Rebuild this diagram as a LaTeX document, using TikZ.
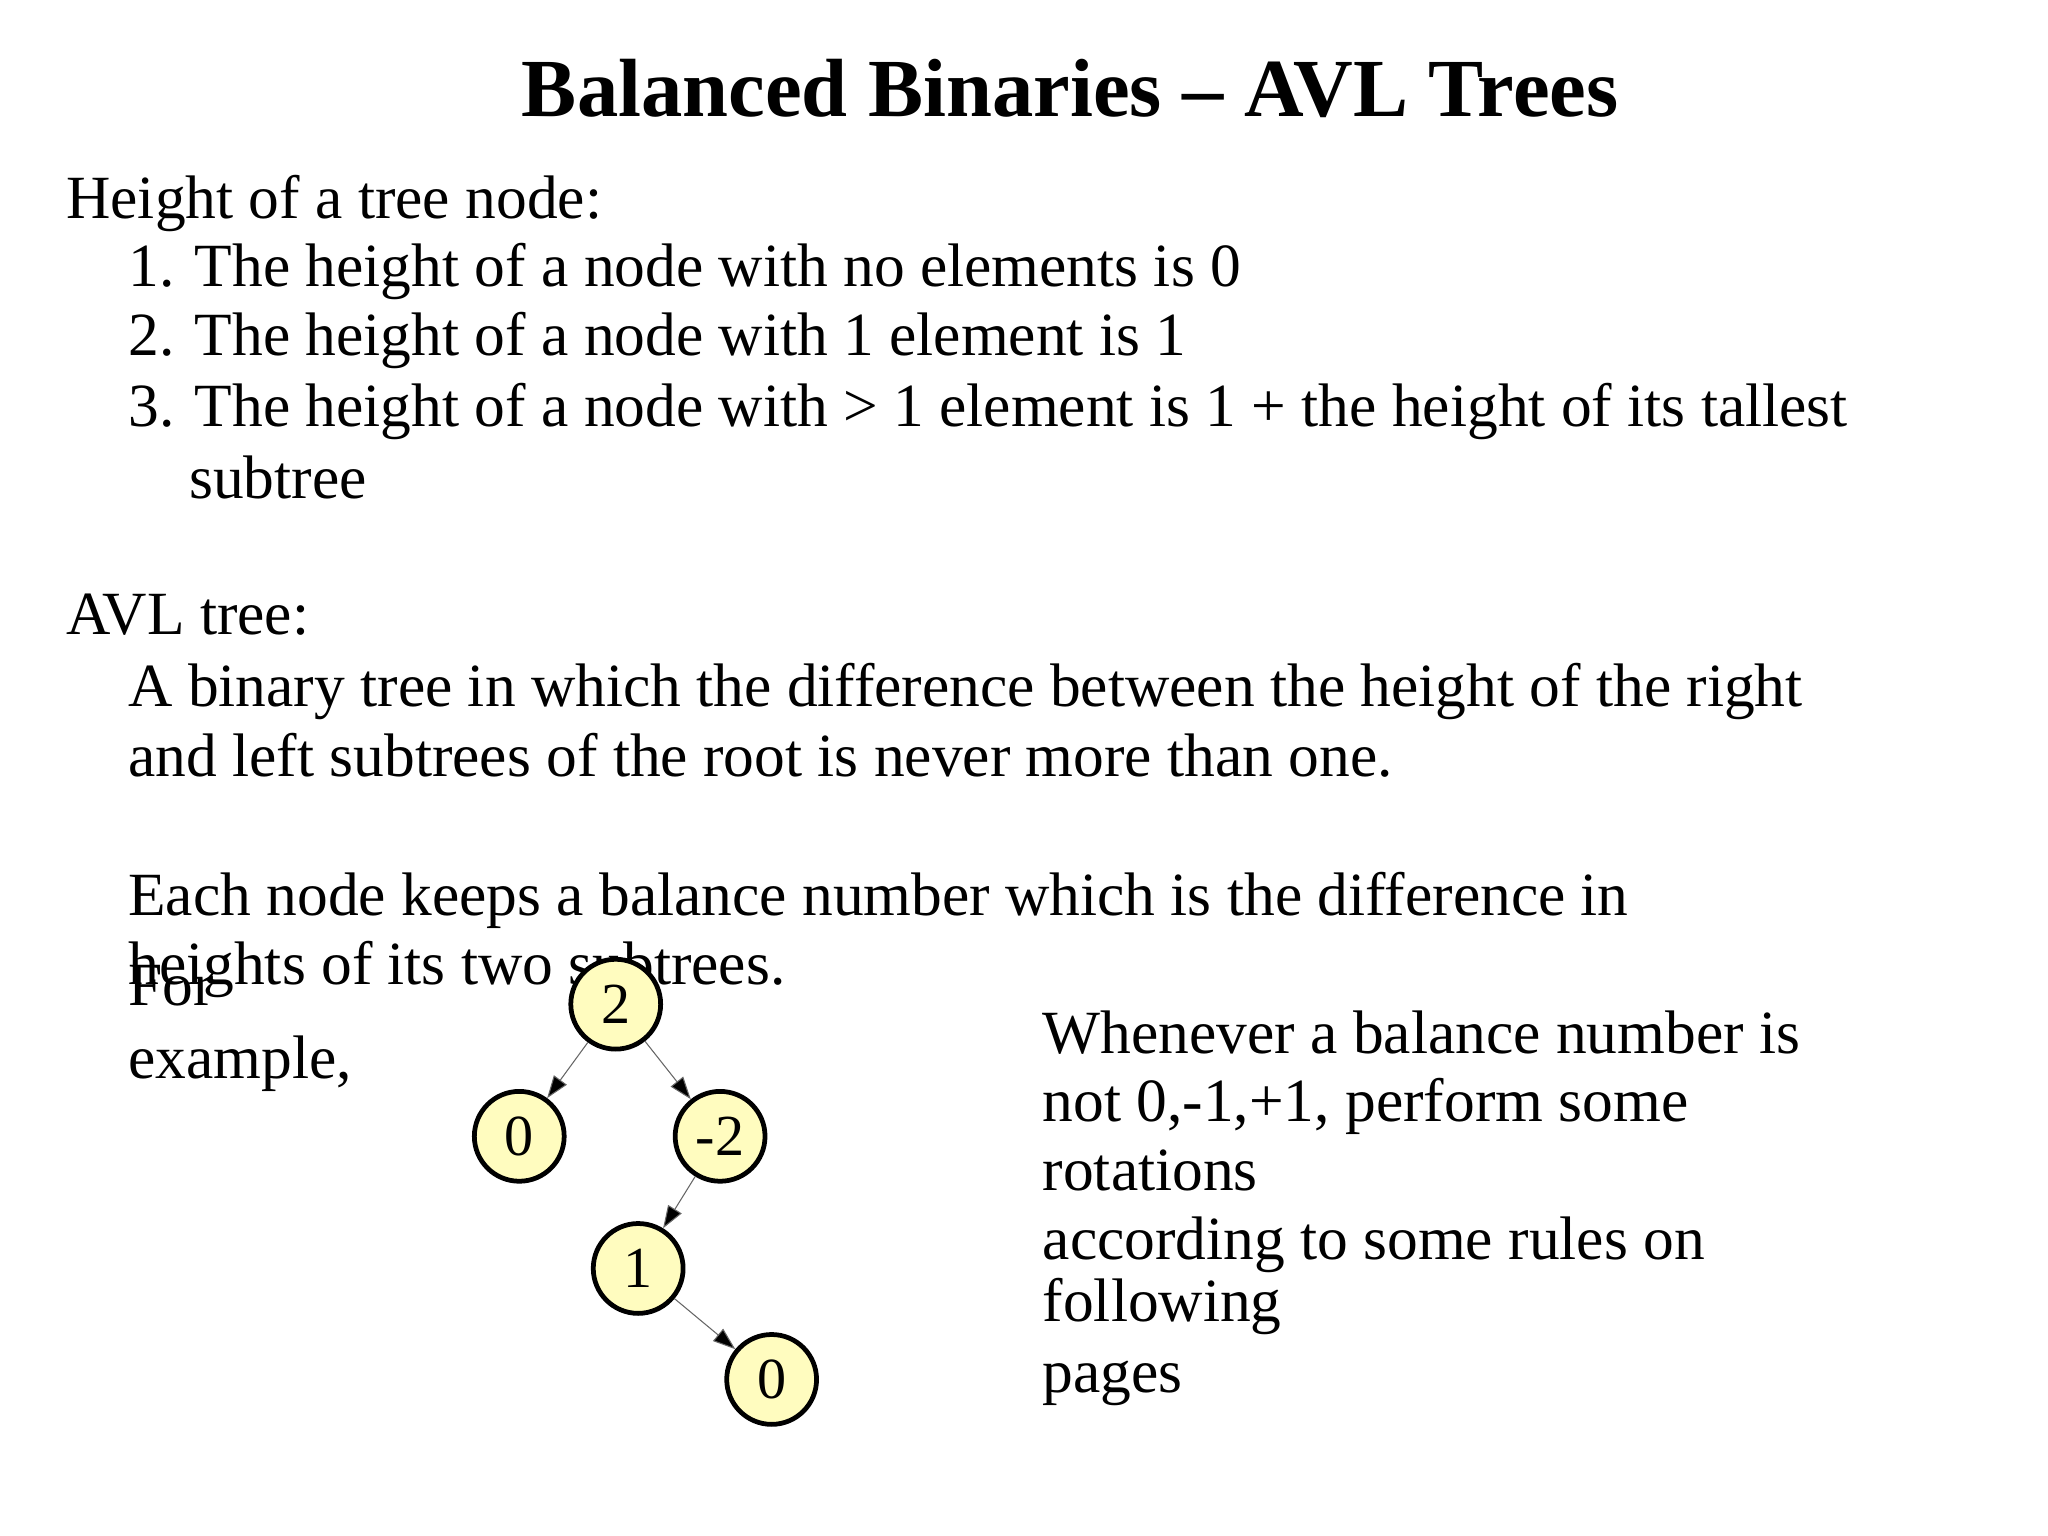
\documentclass[tikz,border=0pt]{standalone}
\usepackage{fontspec}
\setmainfont{Liberation Serif}
\usetikzlibrary{arrows.meta}
\begin{document}
\begin{tikzpicture}[x=1pt,y=-1pt,
  txt/.style={anchor=base west,inner sep=0pt,font=\fontsize{46.5}{52}\selectfont},
  tn/.style={circle,draw=black,line width=3.6pt,fill=yellow!25!white,minimum size=68pt,inner sep=0pt,font=\fontsize{44}{48}\selectfont},
  ed/.style={draw=black!60,line width=0.8pt,-{Triangle[length=17pt,width=12pt,fill=black]}}]
\useasboundingbox (0,0) rectangle (1550,1162);
\node[anchor=base,inner sep=0pt,font=\fontsize{62.5}{70}\selectfont\bfseries] (title) at (810,88) {Balanced Binaries -- AVL Trees};
\node[txt] (h) at (50,165) {Height of a tree node:};
\node[txt] (i1) at (97,217) {1. The height of a node with no elements is 0};
\node[txt] (i2) at (97,269) {2. The height of a node with 1 element is 1};
\node[txt] (i3) at (97,323) {3. The height of a node with > 1 element is 1 + the height of its tallest};
\node[txt] (i3b) at (143,377) {subtree};
\node[txt] (avl) at (50,480) {AVL tree:};
\node[txt] (a1) at (97,535) {A binary tree in which the difference between the height of the right};
\node[txt] (a2) at (97,588) {and left subtrees of the root is never more than one.};
\node[txt] (e1) at (97,693) {Each node keeps a balance number which is the difference in};
\node[txt] (e2) at (97,745) {heights of its two subtrees.};
\node[txt] (f1) at (97,761) {For};
\node[txt] (f2) at (97,816) {example,};
\node[txt] (r1) at (789,797) {Whenever a balance number is};
\node[txt] (r2) at (789,849) {not 0,-1,+1, perform some};
\node[txt] (r3) at (789,901) {rotations};
\node[txt] (r4) at (789,953) {according to some rules on};
\node[txt] (r5) at (789,1000) {following};
\node[txt] (r6) at (789,1054) {pages};
\node[tn] (n2) at (466,760) {2};
\node[tn] (n0a) at (393,860) {0};
\node[tn] (nm2) at (545,860) {-2};
\node[tn] (n1) at (483,960) {1};
\node[tn] (n0b) at (584,1044) {0};
\draw[ed] (n2) -- (n0a);
\draw[ed] (n2) -- (nm2);
\draw[ed] (nm2) -- (n1);
\draw[ed] (n1) -- (n0b);
\end{tikzpicture}
\end{document}
